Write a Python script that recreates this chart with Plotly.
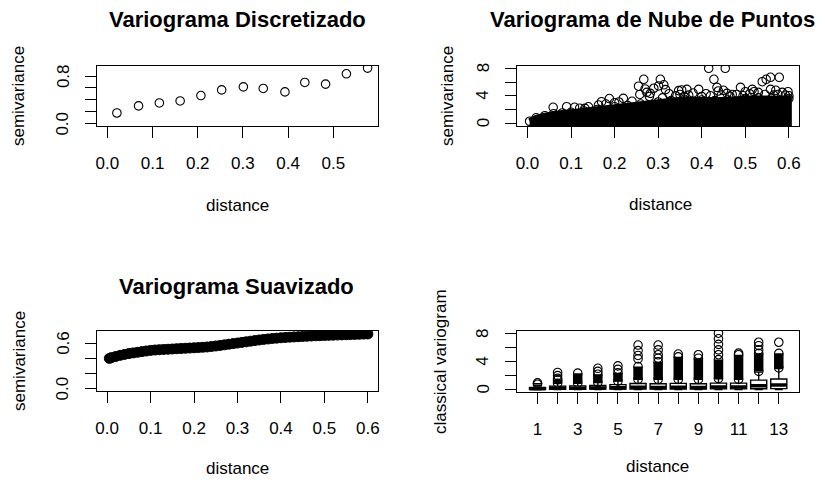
import plotly.graph_objects as go

# ---------------- data ----------------
# Panel 1: binned (discretised) variogram
bin_dist = [0.021, 0.069, 0.115, 0.161, 0.207, 0.253, 0.301, 0.345, 0.393, 0.437, 0.483, 0.529, 0.576]
bin_semiv = [0.179, 0.298, 0.348, 0.382, 0.473, 0.568, 0.619, 0.592, 0.534, 0.693, 0.665, 0.839, 0.935]

# Panel 2: variogram cloud -- upper edge of the dense mass of points, and the scattered points above it
cloud_edge_dist = [0.005, 0.02, 0.04, 0.06, 0.08, 0.10, 0.13, 0.16, 0.20, 0.23, 0.26, 0.30,
                   0.33, 0.36, 0.40, 0.43, 0.46, 0.50, 0.53, 0.56, 0.60]
cloud_edge_semiv = [0.3, 0.8, 1.1, 1.4, 1.5, 1.6, 1.8, 2.0, 2.4, 2.6, 2.8, 3.1,
                    3.3, 3.5, 3.4, 3.3, 3.4, 3.6, 3.7, 3.6, 3.6]
cloud_out_dist = [0.059, 0.090, 0.108, 0.132, 0.140, 0.163, 0.170, 0.188, 0.200, 0.220, 0.240,
                  0.255, 0.258, 0.267, 0.270, 0.274, 0.282, 0.290, 0.301, 0.305, 0.313, 0.317,
                  0.325, 0.347, 0.350, 0.354, 0.366, 0.380, 0.393, 0.410, 0.416, 0.428, 0.435,
                  0.438, 0.450, 0.454, 0.458, 0.470, 0.489, 0.500, 0.516, 0.520, 0.530, 0.539,
                  0.548, 0.558, 0.558, 0.570, 0.578, 0.585, 0.598,
                  0.120, 0.180, 0.210, 0.280, 0.340, 0.370, 0.400, 0.420, 0.445, 0.480,
                  0.510, 0.545, 0.575, 0.592, 0.310, 0.360, 0.465, 0.495, 0.565, 0.600]
cloud_out_semiv = [2.33, 2.42, 2.33, 2.18, 2.40, 2.66, 3.14, 3.60, 3.00, 3.63, 3.20,
                   5.40, 4.20, 6.40, 5.00, 4.50, 4.36, 5.10, 5.43, 6.40, 5.60, 4.90,
                   4.30, 4.75, 4.20, 4.85, 4.94, 4.40, 4.94, 4.30, 8.00, 6.40, 5.23,
                   4.70, 4.80, 8.00, 4.36, 4.20, 5.23, 4.60, 4.94, 4.60, 4.50, 6.05,
                   6.40, 6.69, 4.94, 4.80, 6.69, 4.50, 4.60,
                   2.20, 2.80, 3.10, 3.90, 4.00, 4.10, 3.90, 4.00, 4.10, 4.20,
                   4.30, 4.20, 4.20, 4.10, 3.70, 3.90, 3.90, 4.00, 4.10, 4.00]

# Panel 3: smoothed variogram
smooth_dist = [0.005, 0.01, 0.02, 0.03, 0.04, 0.05, 0.06, 0.07, 0.08, 0.09, 0.10,
               0.11, 0.12, 0.13, 0.14, 0.15, 0.16, 0.17, 0.18, 0.19, 0.20,
               0.21, 0.22, 0.23, 0.24, 0.25, 0.26, 0.27, 0.28, 0.29, 0.30,
               0.31, 0.32, 0.33, 0.34, 0.35, 0.36, 0.37, 0.38, 0.39, 0.40,
               0.41, 0.42, 0.43, 0.44, 0.45, 0.46, 0.47, 0.48, 0.49, 0.50,
               0.51, 0.52, 0.53, 0.54, 0.55, 0.56, 0.57, 0.58, 0.59, 0.60]
smooth_semiv = [0.400, 0.410, 0.425, 0.440, 0.452, 0.463, 0.472, 0.480, 0.489, 0.497, 0.505,
                0.510, 0.514, 0.517, 0.520, 0.523, 0.527, 0.530, 0.533, 0.536, 0.539,
                0.542, 0.546, 0.550, 0.556, 0.563, 0.570, 0.578, 0.586, 0.594, 0.602,
                0.610, 0.618, 0.626, 0.634, 0.642, 0.649, 0.655, 0.661, 0.666, 0.671,
                0.675, 0.679, 0.682, 0.685, 0.688, 0.691, 0.694, 0.697, 0.699, 0.701,
                0.703, 0.705, 0.707, 0.709, 0.711, 0.713, 0.715, 0.717, 0.719, 0.721]

# Panel 4: boxplots of the classical variogram per distance class
classes = [1, 2, 3, 4, 5, 6, 7, 8, 9, 10, 11, 12, 13]
box_q1 = [0.02, 0.03, 0.04, 0.05, 0.05, 0.06, 0.06, 0.07, 0.07, 0.08, 0.08, 0.10, 0.12]
box_med = [0.10, 0.16, 0.18, 0.20, 0.25, 0.32, 0.30, 0.32, 0.30, 0.34, 0.34, 0.55, 0.65]
box_q3 = [0.30, 0.48, 0.52, 0.58, 0.70, 0.85, 0.82, 0.88, 0.82, 0.92, 0.92, 1.35, 1.50]
box_lo = [0.0] * 13
box_hi = [0.60, 0.90, 0.90, 1.00, 1.20, 1.45, 1.45, 1.45, 1.45, 1.55, 1.45, 2.50, 3.00]
# dense runs of outliers (from, to) and isolated outliers above them
dense_from = [0.75, 0.90, 0.90, 1.00, 1.20, 1.45, 1.45, 1.45, 1.45, 1.55, 1.45, 2.60, 3.10]
dense_to = [0.95, 1.40, 2.35, 2.20, 2.40, 3.30, 4.00, 4.70, 4.50, 4.30, 5.00, 5.20, 5.20]
sparse_out = [[], [1.6, 2.0, 2.45], [], [2.6, 3.05], [2.9, 3.4],
              [4.4, 4.9, 5.6, 6.4], [4.5, 5.0, 5.7, 6.4], [5.1], [5.0],
              [5.0, 5.7, 6.5, 7.3, 8.1], [5.24], [5.7, 6.3, 6.8], [6.8]]

# tick values / labels
x_ticks_1 = [0, 0.1, 0.2, 0.3, 0.4, 0.5]
x_ticks_06 = [0, 0.1, 0.2, 0.3, 0.4, 0.5, 0.6]
y1_ticks, y1_text = [0, 0.2, 0.4, 0.6, 0.8], ["0.0", "", "", "", "0.8"]
y2_ticks, y2_text = [0, 2, 4, 6, 8], ["0", "", "4", "", "8"]
y3_ticks, y3_text = [0, 0.2, 0.4, 0.6], ["0.0", "", "", "0.6"]
y4_ticks, y4_text = [0, 2, 4, 6, 8], ["0", "", "4", "", "8"]

# ---------------- layout helpers ----------------
W, H = 825, 482
FONT = "Liberation Sans, Arial, Helvetica, sans-serif"
TICKFONT = dict(family=FONT, size=17, color="black")

# panel boxes in pixels: (left, right, top, bottom)
P1 = (97, 378, 66, 126)
P2 = (517, 799.3, 65.7, 126)
P3 = (96.7, 378.3, 331, 390.7)
P4 = (517, 799.3, 331, 391.7)


def xd(p):
    return [p[0] / W, p[1] / W]


def yd(p):
    return [1 - p[3] / H, 1 - p[2] / H]


def axis(domain, rng, tickvals, ticktext, anchor, show_labels=True):
    return dict(domain=domain, range=rng, tickvals=tickvals, ticktext=ticktext,
                anchor=anchor, showline=True, mirror=True, linecolor="black",
                linewidth=1, ticks="outside", ticklen=11, tickwidth=1,
                tickcolor="black", showgrid=False, zeroline=False, automargin=False,
                tickfont=TICKFONT, fixedrange=True, showticklabels=show_labels,
                ticklabelstandoff=11)


fig = go.Figure()

open_marker = dict(symbol="circle-open", size=8.5, color="black", line=dict(width=1.1, color="black"))

# Panel 1
fig.add_trace(go.Scatter(x=bin_dist, y=bin_semiv, mode="markers", marker=open_marker,
                         xaxis="x", yaxis="y", showlegend=False))

# Panel 2: dense mass (filled) + its edge points + scattered points
poly_x = cloud_edge_dist + cloud_edge_dist[::-1]
poly_y = cloud_edge_semiv + [-0.5] * len(cloud_edge_dist)
fig.add_trace(go.Scatter(x=poly_x, y=poly_y, mode="lines", fill="toself",
                         fillcolor="black", line=dict(color="black", width=6),
                         xaxis="x2", yaxis="y2", showlegend=False))
fig.add_trace(go.Scatter(x=cloud_edge_dist, y=cloud_edge_semiv, mode="markers",
                         marker=open_marker, xaxis="x2", yaxis="y2", showlegend=False))
fig.add_trace(go.Scatter(x=cloud_out_dist, y=cloud_out_semiv, mode="markers",
                         marker=open_marker, xaxis="x2", yaxis="y2", showlegend=False))

# Panel 3
fig.add_trace(go.Scatter(x=smooth_dist, y=smooth_semiv, mode="markers",
                         marker=dict(symbol="circle", size=10, color="black",
                                     line=dict(width=1, color="black")),
                         xaxis="x3", yaxis="y3", showlegend=False))

# Panel 4: boxes
fig.add_trace(go.Box(x=classes, q1=box_q1, median=box_med, q3=box_q3,
                     lowerfence=box_lo, upperfence=box_hi, width=0.8,
                     whiskerwidth=0.5, fillcolor="white",
                     line=dict(color="black", width=1.4), boxpoints=False,
                     xaxis="x4", yaxis="y4", showlegend=False))
mx, my = [], []
for c, m in zip(classes, box_med):
    mx += [c - 0.4, c + 0.4, None]
    my += [m, m, None]
fig.add_trace(go.Scatter(x=mx, y=my, mode="lines", line=dict(color="black", width=3.5),
                         xaxis="x4", yaxis="y4", showlegend=False))
dx, dy = [], []
for c, a, b in zip(classes, dense_from, dense_to):
    dx += [c, c, None]
    dy += [a, b, None]
fig.add_trace(go.Scatter(x=dx, y=dy, mode="lines", line=dict(color="black", width=9.5),
                         xaxis="x4", yaxis="y4", showlegend=False))
ox, oy = [], []
for c, a, b, s in zip(classes, dense_from, dense_to, sparse_out):
    for v in [a, b] + s:
        ox.append(c)
        oy.append(v)
fig.add_trace(go.Scatter(x=ox, y=oy, mode="markers", marker=open_marker,
                         xaxis="x4", yaxis="y4", showlegend=False))

# ---------------- axes ----------------
fig.update_layout(
    width=W, height=H, autosize=False,
    margin=dict(l=0, r=0, t=0, b=0, autoexpand=False),
    paper_bgcolor="white", plot_bgcolor="white",
    font=dict(family=FONT, color="black"),
    xaxis=axis(xd(P1), [-0.023, 0.599], x_ticks_1, ["%.1f" % v for v in x_ticks_1], "y"),
    yaxis=axis(yd(P1), [-0.04, 0.97], y1_ticks, y1_text, "x", False),
    xaxis2=axis(xd(P2), [-0.024, 0.624], x_ticks_06, ["%.1f" % v for v in x_ticks_06], "y2"),
    yaxis2=axis(yd(P2), [-0.39, 8.38], y2_ticks, y2_text, "x2", False),
    xaxis3=axis(xd(P3), [-0.024, 0.624], x_ticks_06, ["%.1f" % v for v in x_ticks_06], "y3"),
    yaxis3=axis(yd(P3), [-0.025, 0.76], y3_ticks, y3_text, "x3", False),
    xaxis4=axis(xd(P4), [-0.02, 14.02], classes,
                [str(c) if c % 2 == 1 else "" for c in classes], "y4"),
    yaxis4=axis(yd(P4), [-0.32, 8.42], y4_ticks, y4_text, "x4", False),
)


def ann(text, x, y, size=17, bold=False, angle=0):
    return dict(text=f"<b>{text}</b>" if bold else text, x=x / W, y=1 - y / H,
                xref="paper", yref="paper", showarrow=False, textangle=angle,
                xanchor="center", yanchor="middle",
                font=dict(family=FONT, size=size, color="black"))


anns = [
    ann("Variograma Discretizado", 237, 20, size=22, bold=True),
    ann("Variograma de Nube de Puntos", 652, 20, size=22, bold=True),
    ann("Variograma Suavizado", 236, 286, size=22, bold=True),
    ann("distance", 237.5, 205),
    ann("distance", 660, 204),
    ann("distance", 237.5, 468),
    ann("distance", 657, 466),
    ann("semivariance", 19, 96, angle=-90),
    ann("semivariance", 448, 96, angle=-90),
    ann("semivariance", 19, 361, angle=-90),
    ann("classical variogram", 440, 362, angle=-90),
]

# rotated y tick labels, placed on each y axis scale
for suffix, p, vals, texts in [("", P1, y1_ticks, y1_text), ("2", P2, y2_ticks, y2_text),
                               ("3", P3, y3_ticks, y3_text), ("4", P4, y4_ticks, y4_text)]:
    width = p[1] - p[0]
    for v, t in zip(vals, texts):
        if not t:
            continue
        anns.append(dict(text=t, x=-34 / width, y=v, xref=f"x{suffix} domain", yref=f"y{suffix}",
                         showarrow=False, textangle=-90, xanchor="center", yanchor="middle",
                         font=TICKFONT))

fig.update_layout(annotations=anns)

fig.write_html("out.html")
